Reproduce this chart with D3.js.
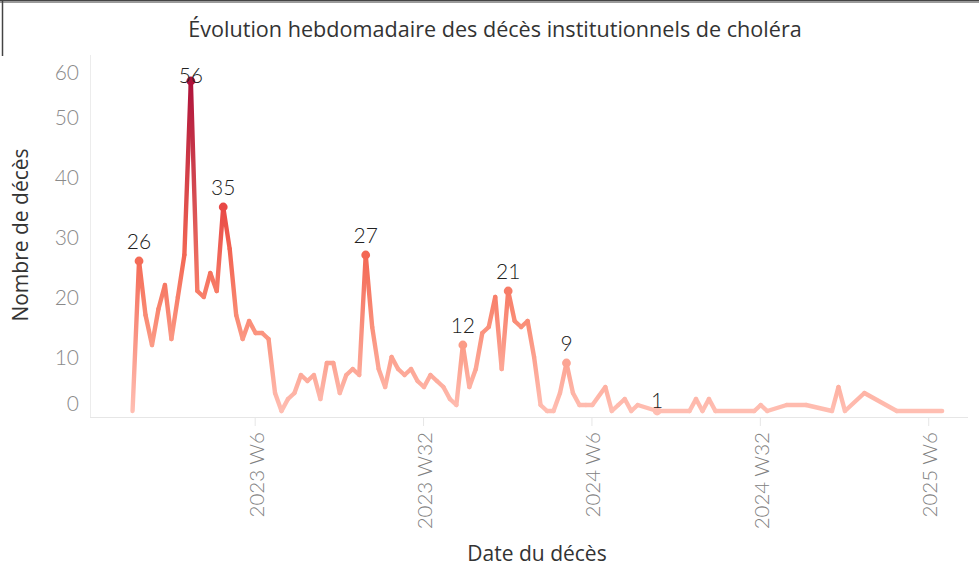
<!DOCTYPE html>
<html>
<head>
<meta charset="utf-8">
<script src="https://cdn.jsdelivr.net/npm/d3@7"></script>
<style>
  html, body { margin: 0; padding: 0; background: #fff; }
  svg { display: block; }
</style>
</head>
<body>
<svg id="chart" width="979" height="577"></svg>
<script>
// ---------- DATA ----------
const titleText = "Évolution hebdomadaire des décès institutionnels de choléra";
const xAxisTitle = "Date du décès";
const yAxisTitle = "Nombre de décès";

// first plotted week (week start) and week offsets of each observed point
const firstWeek = "2022-09-26";
const weekOffsets = [
  0, 1, 2, 3, 4, 5, 6, 7, 8, 9,
  10, 11, 12, 13, 14, 15, 16, 17, 18, 19,
  20, 21, 22, 23, 24, 25, 26, 27, 28, 29,
  30, 31, 32, 33, 34, 35, 36, 37, 38, 39,
  40, 41, 42, 43, 44, 45, 46, 47, 48, 49,
  50, 51, 52, 53, 54, 55, 56, 57, 58, 59,
  60, 61, 62, 63, 64, 65, 66, 67, 68, 69,
  70, 71, 73, 74, 75, 76, 77, 78, 81, 86,
  87, 88, 89, 90, 96, 97, 98, 101, 104, 108,
  109, 110, 113, 118, 125
];
const deaths = [
  1, 26, 17, 12, 18, 22, 13, 20, 27, 56,
  21, 20, 24, 21, 35, 28, 17, 13, 16, 14,
  14, 13, 4, 1, 3, 4, 7, 6, 7, 3,
  9, 9, 4, 7, 8, 7, 27, 15, 8, 5,
  10, 8, 7, 8, 6, 5, 7, 6, 5, 3,
  2, 12, 5, 8, 14, 15, 20, 8, 21, 16,
  15, 16, 10, 2, 1, 1, 4, 9, 4, 2,
  2, 2, 5, 1, 2, 3, 1, 2, 1, 1,
  3, 1, 3, 1, 1, 2, 1, 2, 2, 1,
  5, 1, 4, 1, 1
];
// week offsets of the points that carry a value label
const labelledWeeks = [1, 9, 14, 36, 51, 58, 67, 81];

const yTicks = [0, 10, 20, 30, 40, 50, 60];
const xTickDates = ["2023-02-05", "2023-08-06", "2024-02-04", "2024-08-04", "2025-02-02"];
const xTickLabels = ["2023 W6", "2023 W32", "2024 W6", "2024 W32", "2025 W6"];
const xDomain = ["2022-08-11", "2025-03-17"];

// Tableau "Red" sequential palette
const redPalette = ['#ffbeb2', '#feb4a6', '#fdab9b', '#fca290', '#fb9984', '#fa8f79', '#f9856e', '#f77b66', '#f5715d', '#f36754', '#f05c4d', '#ec5049', '#e74545', '#e13b42', '#da323f', '#d3293d', '#ca223c', '#c11a3b', '#b8163a', '#ae123a'];

// ---------- LAYOUT ----------
const pane = { left: 90, right: 968, top: 57, bottom: 417 };
const parse = s => { const [y, m, d] = s.split("-").map(Number); return new Date(Date.UTC(y, m - 1, d)); };
const DAY = 86400000;
const start = parse(firstWeek);
const points = weekOffsets.map((w, i) => ({
  w, v: deaths[i], date: new Date(start.getTime() + w * 7 * DAY)
}));

const x = d3.scaleUtc().domain(xDomain.map(parse)).range([pane.left, pane.right]);
const y = d3.scaleLinear().domain([0, 60]).range([pane.bottom, pane.top]);
const vmin = d3.min(deaths), vmax = d3.max(deaths);
const colorInterp = d3.interpolateRgbBasis(redPalette);
const color = v => colorInterp((v - vmin) / (vmax - vmin));

const svg = d3.select("#chart");
const defs = svg.append("defs");

// outer frame fragments
svg.append("rect").attr("x", 0).attr("y", 0).attr("width", 979).attr("height", 3).attr("fill", "#9a9a9a");
svg.append("line").attr("x1", 0).attr("x2", 979).attr("y1", 0.5).attr("y2", 0.5).attr("stroke", "#444");
svg.append("line").attr("x1", 2.5).attr("x2", 2.5).attr("y1", 0).attr("y2", 56).attr("stroke", "#444").attr("stroke-width", 1.5);

// title
svg.append("text")
  .attr("x", 495).attr("y", 37)
  .attr("text-anchor", "middle")
  .attr("font-family", "'Open Sans', sans-serif")
  .attr("font-size", 21.6)
  .attr("fill", "#333")
  .text(titleText);

// pane left border & bottom axis line
svg.append("line").attr("x1", pane.left + 0.5).attr("x2", pane.left + 0.5)
  .attr("y1", pane.top - 2).attr("y2", pane.bottom).attr("stroke", "#ececec");
svg.append("line").attr("x1", pane.left).attr("x2", pane.right)
  .attr("y1", pane.bottom + 0.5).attr("y2", pane.bottom + 0.5).attr("stroke", "#e6e6e6");

// y axis
const yAxis = d3.axisLeft(y).tickValues(yTicks).tickSize(0).tickPadding(10).tickFormat(d3.format("d"));
const yG = svg.append("g").attr("transform", `translate(${pane.left - 1},0)`).call(yAxis);
yG.select(".domain").remove();
yG.selectAll("text")
  .attr("font-family", "Lato, 'Open Sans', sans-serif")
  .attr("font-size", 21)
  .attr("font-weight", 300)
  .attr("fill", "#8a8a8a")
  .attr("dy", d => d === 0 ? "-0.32em" : d === 60 ? "1.05em" : "0.35em");

// x axis
const xAxis = d3.axisBottom(x).tickValues(xTickDates.map(parse))
  .tickSize(9).tickFormat((d, i) => xTickLabels[i]);
const xG = svg.append("g").attr("transform", `translate(0,${pane.bottom})`).call(xAxis);
xG.select(".domain").remove();
xG.selectAll(".tick line").attr("stroke", "#e6e6e6");
xG.selectAll("text")
  .attr("font-family", "Lato, 'Open Sans', sans-serif")
  .attr("font-size", 20.5)
  .attr("font-weight", 300)
  .attr("fill", "#808080")
  .attr("text-anchor", "end")
  .attr("transform", "rotate(-90)")
  .attr("x", -15).attr("y", 1).attr("dy", "0.36em");

// axis titles
svg.append("text")
  .attr("x", 537).attr("y", 561)
  .attr("text-anchor", "middle")
  .attr("font-family", "'Open Sans', sans-serif")
  .attr("font-size", 21)
  .attr("fill", "#333")
  .text(xAxisTitle);
svg.append("text")
  .attr("transform", `translate(28,235) rotate(-90)`)
  .attr("text-anchor", "middle")
  .attr("font-family", "'Open Sans', sans-serif")
  .attr("font-size", 21)
  .attr("fill", "#333")
  .text(yAxisTitle);

// line drawn as gradient segments (colour by value)
const segG = svg.append("g");
for (let i = 0; i < points.length - 1; i++) {
  const a = points[i], b = points[i + 1];
  const x1 = x(a.date), y1 = y(a.v), x2 = x(b.date), y2 = y(b.v);
  const id = "g" + i;
  const g = defs.append("linearGradient").attr("id", id)
    .attr("gradientUnits", "userSpaceOnUse")
    .attr("x1", x1).attr("y1", y1).attr("x2", x2).attr("y2", y2);
  g.append("stop").attr("offset", 0).attr("stop-color", color(a.v));
  g.append("stop").attr("offset", 1).attr("stop-color", color(b.v));
  segG.append("path")
    .attr("d", d3.line()([[x1, y1], [x2, y2]]))
    .attr("stroke", `url(#${id})`)
    .attr("stroke-width", 4.4)
    .attr("stroke-linecap", "round")
    .attr("fill", "none");
}

// labelled points
const lab = points.filter(p => labelledWeeks.includes(p.w));
svg.append("g").selectAll("circle").data(lab).join("circle")
  .attr("cx", d => x(d.date)).attr("cy", d => y(d.v))
  .attr("r", 4.4).attr("fill", d => color(d.v));
svg.append("g").selectAll("text").data(lab).join("text")
  .attr("x", d => x(d.date))
  .attr("y", d => d.v === vmin ? y(d.v) - 3 : Math.max(y(d.v) - 12, pane.top + 26))
  .attr("text-anchor", "middle")
  .attr("font-family", "Lato, 'Open Sans', sans-serif")
  .attr("font-size", 21)
  .attr("font-weight", 300)
  .attr("fill", "#222")
  .text(d => d.v);
</script>
</body>
</html>
